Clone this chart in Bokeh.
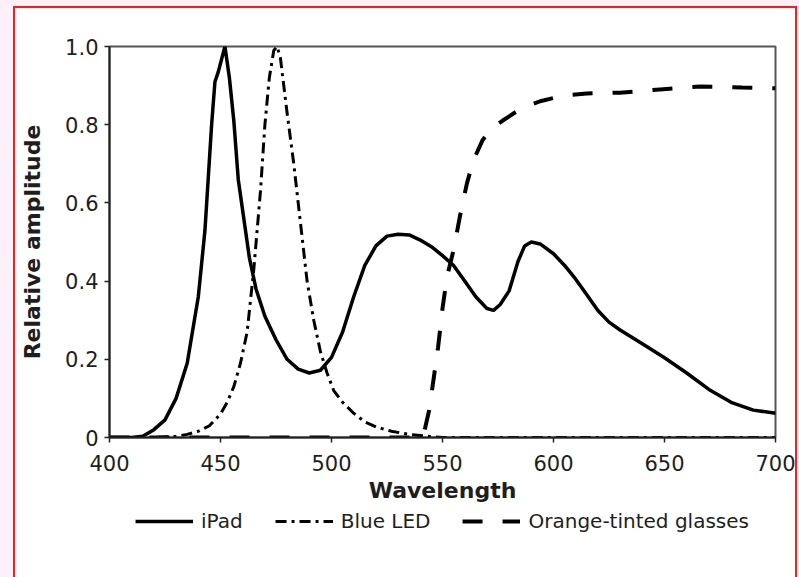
from bokeh.plotting import figure
from bokeh.models import Range1d, FixedTicker, PrintfTickFormatter, Legend, LegendItem
from bokeh.layouts import column
from bokeh.embed import file_html
from bokeh.resources import INLINE

# ---- data ----
ipad_wl = [400, 410, 415, 420, 425, 430, 435, 440, 443, 446, 447.5, 449, 452, 454, 456, 458, 460,
           463, 466, 470, 475, 480, 485, 490, 495, 500, 505, 510, 515, 520, 525, 530, 535, 540,
           545, 550, 555, 560, 565, 570, 573, 576, 580, 584, 587, 590, 594, 600, 605, 610, 615,
           620, 625, 630, 640, 650, 660, 670, 680, 690, 700]
ipad_amp = [0, 0, 0.003, 0.02, 0.045, 0.10, 0.19, 0.36, 0.53, 0.80, 0.91, 0.935, 1.0, 0.92, 0.81, 0.66, 0.58,
            0.46, 0.38, 0.31, 0.25, 0.20, 0.175, 0.165, 0.172, 0.205, 0.27, 0.36, 0.44, 0.49, 0.515, 0.52, 0.518, 0.505,
            0.488, 0.465, 0.44, 0.40, 0.36, 0.33, 0.325, 0.34, 0.375, 0.45, 0.49, 0.50, 0.495, 0.47, 0.44, 0.405, 0.365,
            0.325, 0.295, 0.275, 0.24, 0.204, 0.165, 0.123, 0.09, 0.07, 0.062]

led_wl = [400, 420, 430, 435, 440, 445, 450, 453, 456, 459, 462, 465, 468, 470, 472, 474, 475.5, 477,
          480, 483, 486, 489, 492, 495, 498, 501, 505, 510, 515, 520, 527, 535, 545, 550, 700]
led_amp = [0, 0, 0.003, 0.008, 0.016, 0.03, 0.06, 0.09, 0.13, 0.19, 0.27, 0.43, 0.63, 0.80, 0.92, 0.99, 1.0, 0.97,
           0.83, 0.70, 0.55, 0.40, 0.30, 0.22, 0.165, 0.12, 0.09, 0.062, 0.04, 0.027, 0.016, 0.008, 0.002, 0, 0]

glasses_wl = [400, 540, 542, 544, 546, 548, 550, 552, 555, 558, 561, 564, 568, 572, 577, 585, 594,
              605, 615, 630, 648, 666, 685, 700]
glasses_amp = [0, 0, 0.02, 0.07, 0.15, 0.23, 0.33, 0.41, 0.48, 0.57, 0.65, 0.71, 0.76, 0.79, 0.81, 0.84, 0.86,
               0.875, 0.88, 0.882, 0.89, 0.898, 0.895, 0.893]

x_ticks = [400, 450, 500, 550, 600, 650, 700]
y_ticks = [0, 0.2, 0.4, 0.6, 0.8, 1.0]

series_names = ["iPad", "Blue LED", "Orange-tinted glasses"]

FONT = "DejaVu Sans"
TXT = "#1e1e1e"

STYLES = {
    "ipad": dict(line_color="black", line_width=3.5),
    "led": dict(line_color="black", line_width=3, line_dash="11 5 3 5"),
    "gl": dict(line_color="black", line_width=4, line_dash="20 20"),
}

# ---------------- main chart ----------------
p = figure(width=780, height=501, output_backend="svg", toolbar_location=None,
           x_range=Range1d(400, 700), y_range=Range1d(0, 1.0),
           min_border_left=94, min_border_top=38, min_border_right=20, min_border_bottom=72,
           background_fill_color="white", border_fill_color="white")

p.xgrid.visible = False
p.ygrid.visible = False
p.outline_line_color = "#555555"
p.outline_line_width = 2

p.line(ipad_wl, ipad_amp, **STYLES["ipad"])
p.line(led_wl, led_amp, **STYLES["led"])
p.line(glasses_wl, glasses_amp, **STYLES["gl"])

for ax in (p.xaxis[0], p.yaxis[0]):
    ax.axis_line_color = "#222222"
    ax.axis_line_width = 2
    ax.major_tick_line_color = "#222222"
    ax.major_tick_line_width = 1.5
    ax.major_tick_out = 5
    ax.major_tick_in = 0
    ax.minor_tick_out = 0
    ax.minor_tick_in = 0
    ax.major_label_text_font = FONT
    ax.major_label_text_font_size = "21px"
    ax.major_label_text_color = TXT
    ax.axis_label_text_font = FONT
    ax.axis_label_text_font_size = "22px"
    ax.axis_label_text_font_style = "bold"
    ax.axis_label_text_color = TXT

p.xaxis[0].ticker = FixedTicker(ticks=x_ticks)
p.yaxis[0].ticker = FixedTicker(ticks=y_ticks)
p.yaxis[0].formatter = PrintfTickFormatter(format="%.1f")
p.yaxis[0].major_label_overrides = {0: "0"}
p.xaxis[0].axis_label = "Wavelength"
p.yaxis[0].axis_label = "Relative amplitude"
p.xaxis[0].major_label_standoff = 12
p.xaxis[0].axis_label_standoff = 4
p.yaxis[0].major_label_standoff = 6
p.yaxis[0].axis_label_standoff = 17

# ---------------- legend strip (series drawn out of view, only the legend shows) ----------------
lg = figure(width=780, height=76, output_backend="svg", toolbar_location=None,
            x_range=Range1d(0, 1), y_range=Range1d(5, 6),
            x_axis_location=None, y_axis_location=None,
            min_border_left=94, min_border_right=20, min_border_top=0, min_border_bottom=0,
            background_fill_color="white", border_fill_color="white", outline_line_color=None)
lg.xgrid.visible = False
lg.ygrid.visible = False
l1 = lg.line(ipad_wl, ipad_amp, **STYLES["ipad"])
l2 = lg.line(led_wl, led_amp, **STYLES["led"])
l3 = lg.line(glasses_wl, glasses_amp, **STYLES["gl"])

legend = Legend(items=[LegendItem(label=series_names[0], renderers=[l1]),
                       LegendItem(label=series_names[1], renderers=[l2]),
                       LegendItem(label=series_names[2], renderers=[l3])],
                orientation="horizontal", location="top_center",
                border_line_color=None, background_fill_alpha=0,
                label_text_font=FONT, label_text_font_size="20px", label_text_color=TXT,
                glyph_width=58, glyph_height=20, label_standoff=8, spacing=32,
                padding=2, margin=0)
lg.add_layout(legend, "center")

layout = column(p, lg, spacing=0)
layout.styles = {"margin-left": "15px", "margin-top": "8px",
                 "box-shadow": "0 0 0 2px #ff1a1a, 0 0 0 40px #fdf0f8"}

open("out.html", "w").write(file_html(layout, INLINE))
